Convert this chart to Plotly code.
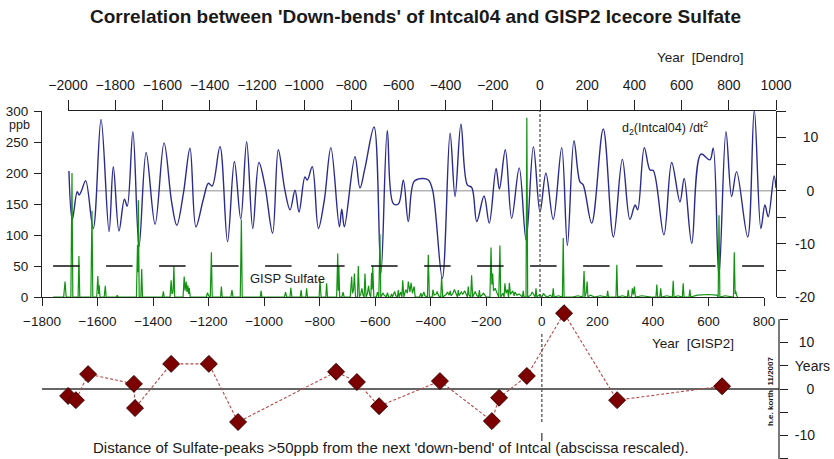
import plotly.graph_objects as go

# ---------------- data ----------------
# 2nd derivative of Intcal04 (blue), Dendro years
d2_year = [-1996, -1982, -1961, -1953, -1942, -1925, -1893, -1860, -1826, -1808,
           -1784, -1761, -1749, -1725, -1699, -1669, -1631, -1593, -1561, -1539,
           -1511, -1483, -1458, -1427, -1405, -1389, -1356, -1324, -1295, -1268,
           -1243, -1217, -1191, -1165, -1133, -1109, -1081, -1059, -1038, -1021,
           -996, -986, -965, -939, -914, -886, -850, -840, -829, -784,
           -763, -742, -703, -674, -647, -622, -600, -579, -558, -534,
           -501, -473, -455, -414, -381, -360, -335, -308, -289, -268,
           -237, -215, -186, -172, -147, -120, -88, -59, -28, 0,
           25, 56, 92, 116, 144, 169, 183, 219, 268, 311,
           349, 381, 403, 414, 442, 466, 480, 525, 558, 593,
           611, 643, 682, 720, 734, 758, 788, 812, 833, 880,
           908, 936, 953, 967, 992, 1000]
d2_val = [3.7, -5.5, -0.2, -0.8, 0.1, 1.9, -7.1, 13.4, -7.7, 4.5,
          -7.6, -1.6, -2.9, 11.1, -10.5, 7.2, -6.3, 9.0, -2.1, -6.5,
          -0.5, 8.0, -6.8, -1.7, 1.4, 0.9, 8.3, -9.6, 5.5, -5.3,
          9.2, -7.1, 5.3, 0.8, -8.0, 7.7, 0.1, -3.6, 0.1, -4.0,
          2.6, 2.0, 4.5, -7.1, -1.8, 8.1, -6.8, -3.5, -6.8, 6.4,
          0.5, 4.2, 12.0, -15.5, 11.3, -2.4, -2.5, 2.0, -5.8, 1.7,
          2.3, 2.0, 0.1, -16.5, 10.8, -1.1, 12.5, 1.1, 0.6, -5.8,
          -1.0, -6.1, 4.2, 0.3, 7.7, -5.2, 4.3, -9.3, 8.3, -4.0,
          3.3, -5.4, 8.1, -10.3, 9.4, 1.7, 1.1, -6.1, 11.6, -8.7,
          5.9, -5.4, -2.7, -3.6, 8.1, 3.9, 3.8, -8.3, 5.3, -2.1,
          2.3, -9.9, 6.9, 5.8, 8.0, -16.2, 11.1, -1.1, 3.6, -8.7,
          15.2, -7.1, -2.7, -4.9, 2.8, 0.5]

# GISP2 sulfate (green), GISP2 years, ppb
sulfate_year = [
    -1760, -1722, -1717, -1713, -1696, -1692, -1689, -1670, -1667, -1664,
    -1624, -1620, -1617, -1603, -1599, -1596, -1594, -1591, -1576, -1572, -1569,
    -1532, -1529, -1526, -1460, -1456, -1454, -1453, -1450, -1444, -1441, -1438,
    -1366, -1363, -1360, -1339, -1335, -1332, -1328, -1325, -1322,
    -1292, -1288, -1285, -1281, -1278, -1275, -1272, -1270, -1266,
    -1208, -1204, -1200, -1194, -1190, -1187, -1157, -1154, -1151, -1120, -1116, -1112,
    -1086, -1082, -1079, -1014, -1011, -1008, -927, -923, -919, -907, -904, -900,
    -870, -867, -864, -850, -847, -844, -802, -799, -795, -778, -775, -772,
    -739, -735, -733, -731, -728, -720, -716, -712, -690, -685, -682, -678, -675, -671,
    -664, -661, -657, -652, -648, -644, -640, -637, -633, -628, -624, -620, -616, -613, -611, -609, -605,
    -596, -592, -587, -583, -580, -572, -568, -560, -556, -552, -545, -541, -538, -530, -526,
    -520, -517, -514, -508, -504, -501, -497, -490, -484, -481, -475, -471, -466, -460, -456,
    -440, -436, -432, -425, -421, -412, -409, -405, -395, -392, -388, -380, -377, -372, -364, -361, -357,
    -345, -340, -334, -330, -327, -320, -315, -308, -304, -301, -298, -290, -285, -278, -272,
    -268, -265, -262, -256, -253, -249, -240, -235, -228, -225, -222, -210, -200,
    -187, -183, -180, -177, -174, -168, -163, -158, -155, -151, -148, -140, -136, -133, -129,
    -124, -120, -117, -113, -105, -100, -97, -90, -82, -76, -70, -67, -64, -57, -54, -51,
    -40, -35, -24, -21, -18, -8, 0, 6, 12, 20, 30, 38, 41, 44, 60, 74, 77, 80,
    110, 130, 148, 152, 155, 160, 163, 166, 175, 190, 210, 234, 237, 240,
    255, 267, 270, 273, 290, 308, 311, 314, 323, 326, 330, 333, 337, 360, 395,
    411, 414, 417, 425, 428, 431, 450, 470, 473, 476, 490, 506, 509, 512,
    530, 533, 536, 560, 600, 630, 635, 638, 641, 660, 690, 693, 696, 698, 701, 705]
sulfate_ppb = [
    0, 0, 25, 0, 0, 200, 0, 0, 66, 0,
    0, 139, 0, 0, 34, 5, 19, 0, 0, 18, 0,
    0, 3, 0, 0, 84, 40, 156, 0, 0, 45, 0,
    0, 9, 0, 0, 27, 5, 8, 50, 0,
    0, 33, 10, 25, 8, 19, 5, 15, 0,
    0, 7, 2, 0, 72, 0, 0, 17, 0, 0, 11, 0,
    0, 125, 0, 0, 10, 0, 0, 8, 0, 0, 15, 0,
    0, 11, 0, 0, 14, 0, 0, 27, 0, 0, 22, 0,
    0, 70, 10, 49, 0, 0, 8, 0, 0, 33, 6, 12, 38, 0,
    0, 50, 0, 5, 14, 3, 0, 38, 0, 6, 18, 4, 0, 39, 12, 50, 0,
    0, 8, 0, 101, 0, 6, 3, 0, 7, 0, 0, 5, 0, 9, 2,
    0, 11, 0, 8, 0, 27, 0, 12, 6, 25, 8, 23, 6, 17, 0,
    0, 6, 0, 8, 2, 0, 68, 0, 0, 12, 3, 5, 9, 2, 0, 33, 0,
    4, 8, 3, 10, 2, 6, 12, 3, 0, 11, 2, 8, 4, 10, 3,
    0, 17, 3, 0, 35, 0, 9, 3, 0, 11, 0, 6, 0,
    0, 80, 20, 38, 10, 14, 8, 4, 0, 83, 0, 6, 0, 22, 6,
    12, 0, 23, 4, 10, 2, 8, 3, 5, 2, 0, 10, 0, 0, 289, 0,
    3, 8, 0, 14, 0, 4, 0, 6, 2, 0, 3, 0, 14, 0, 2, 0, 95, 0,
    0, 2, 0, 42, 0, 8, 25, 0, 3, 0, 2, 0, 10, 0,
    0, 0, 52, 0, 2, 0, 11, 0, 0, 14, 4, 17, 0, 2, 0,
    0, 20, 0, 0, 14, 0, 2, 0, 26, 0, 2, 0, 22, 0,
    0, 12, 0, 3, 4, 3, 0, 132, 0, 2, 0, 72, 5, 10, 3, 0]

# distance of sulfate peaks (>50 ppb) from next down-bend (years)
peak_year = [-1706, -1678, -1634, -1469, -1465, -1335, -1199, -1094, -741,
             -666, -586, -367, -180, -154, -54, 80, 271, 649]
peak_dist = [-1.5, -2.4, 3.2, 1.1, -4.1, 5.4, 5.4, -7.1, 3.7,
             1.5, -3.7, 1.7, -6.9, -1.9, 2.8, 16.3, -2.4, 0.6]

dendro_ticks = list(range(-2000, 1001, 200))
gisp_ticks = list(range(-1800, 801, 200))
ppb_ticks = [0, 50, 100, 150, 200, 250, 300]
d2_ticks = [15, 10, 5, 0, -5, -10, -15, -20]
d2_text = ["", "\u00a0\u00a010", "", "\u00a0\u00a0\u00a00", "", "-10", "", "-20"]
yr_ticks = [15, 10, 5, 0, -5, -10, -15]
yr_text = ["", "\u00a010", "Years", "\u00a0\u00a0\u00a00", "", "-10", ""]

# ---------------- layout helpers ----------------
W, H = 834, 459
def px(x):
    return x / W
def py(y):
    return 1 - y / H

FONT = "Arial, Liberation Sans, sans-serif"
TXT = "#1a1a1a"
BLUE = "#2b2b8f"
GREEN = "#129312"

fig = go.Figure()

fig.add_trace(go.Scatter(x=d2_year, y=d2_val, mode="lines",
                         line=dict(color=BLUE, width=1.4, shape="spline", smoothing=1.0),
                         xaxis="x", yaxis="y", hoverinfo="skip"))
fig.add_trace(go.Scatter(x=sulfate_year, y=sulfate_ppb, mode="lines",
                         line=dict(color=GREEN, width=1.2),
                         xaxis="x2", yaxis="y2", hoverinfo="skip"))
fig.add_trace(go.Scatter(x=peak_year, y=peak_dist, mode="lines+markers",
                         line=dict(color="#b54a4a", width=1.1, dash="3px,2px"),
                         marker=dict(symbol="diamond", size=13, color="#7c0000",
                                     line=dict(color="#3a0000", width=1)),
                         cliponaxis=False,
                         xaxis="x3", yaxis="y3", hoverinfo="skip"))

axis_common = dict(showgrid=False, zeroline=False, showline=True, linecolor="#222",
                   linewidth=1.2, ticks="outside", tickcolor="#222", tickwidth=1.2,
                   automargin=False,
                   tickfont=dict(family=FONT, size=13.5, color=TXT))

# lower panel: 0 at y=389 px, 4.65 px per year; domain 305..459 px
yr_top = (389 - 305) / 4.65
yr_bot = -(459 - 389) / 4.65

fig.update_layout(
    width=W, height=H, margin=dict(l=0, r=0, t=0, b=0, autoexpand=False),
    paper_bgcolor="white", plot_bgcolor="rgba(0,0,0,0)", showlegend=False,
    xaxis=dict(axis_common, domain=[px(68), px(776)], range=[-2000, 1000],
               side="top", anchor="free", position=py(110), tickvals=dendro_ticks,
               ticklen=10, tickfont=dict(family=FONT, size=14, color=TXT),
               ticklabelstandoff=4),
    yaxis=dict(axis_common, domain=[py(297), py(111)], range=[-20, 15],
               side="right", anchor="x", tickvals=d2_ticks, ticktext=d2_text,
               ticklen=9, ticklabelstandoff=6, tickfont=dict(family=FONT, size=14, color=TXT)),
    xaxis2=dict(axis_common, domain=[px(42), px(764)], range=[-1800, 800],
                anchor="y2", tickvals=gisp_ticks, ticklen=8, ticklabelstandoff=4),
    yaxis2=dict(axis_common, domain=[py(297), py(111)], range=[0, 300],
                anchor="x2", tickvals=ppb_ticks, ticklen=7, ticklabelstandoff=3),
    xaxis3=dict(domain=[px(42), px(764)], range=[-1800, 800], anchor="y3",
                visible=False),
    yaxis3=dict(axis_common, domain=[0, py(305)], range=[yr_bot, yr_top],
                showline=False,
                side="right", anchor="free", position=px(779), tickvals=yr_ticks,
                ticktext=yr_text, ticklen=8, ticklabelstandoff=4,
                tickfont=dict(family=FONT, size=14, color=TXT)),
)

shapes = []
shapes.append(dict(type="line", xref="x", yref="y", x0=-1877, x1=1000, y0=0, y1=0,
                   line=dict(color="#b4b4b4", width=1.5), layer="below"))
shapes.append(dict(type="line", xref="x2", yref="y2", x0=-1760, x1=800, y0=50, y1=50,
                   line=dict(color="#111", width=1.3, dash="26.5px,26.5px")))
shapes.append(dict(type="line", xref="x", yref="paper", x0=0, x1=0, y0=py(297), y1=py(111),
                   line=dict(color="#555", width=1.3, dash="3px,2px")))
shapes.append(dict(type="line", xref="x3", yref="paper", x0=0, x1=0, y0=py(422), y1=py(333),
                   line=dict(color="#555", width=1.3, dash="3px,2px")))
shapes.append(dict(type="line", xref="x3", yref="paper", x0=0, x1=0, y0=py(441), y1=py(433),
                   line=dict(color="#333", width=1.2)))
shapes.append(dict(type="line", xref="paper", yref="y3", x0=px(42), x1=px(779), y0=0, y1=0,
                   line=dict(color="#333", width=1.5), layer="below"))
shapes.append(dict(type="line", xref="paper", yref="y3", x0=px(779), x1=px(779), y0=yr_bot, y1=15,
                   line=dict(color="#222", width=1.2)))
fig.update_layout(shapes=shapes)

def ann(text, x, y, size=13, bold=False, angle=0, xanchor="center"):
    fig.add_annotation(text=f"<b>{text}</b>" if bold else text, x=px(x), y=py(y),
                       xref="paper", yref="paper", showarrow=False, xanchor=xanchor,
                       yanchor="middle", textangle=angle,
                       font=dict(family=FONT, size=size, color=TXT))

ann("Correlation between 'Down-bends' of Intcal04 and GISP2 Icecore Sulfate", 415, 17, size=19, bold=True)
ann("Year&nbsp;&nbsp;[Dendro]", 700, 57, size=13.5)
ann("ppb", 19, 125, size=12.5)
ann("d<sub>2</sub>(Intcal04) /dt<sup>2</sup>", 665, 128, size=12.5)
ann("GISP Sulfate", 287, 278, size=13)
ann("Year&nbsp;&nbsp;[GISP2]", 693, 343, size=13.5)
ann("Distance of Sulfate-peaks >50ppb from the next 'down-bend' of Intcal (abscissa rescaled).",
    391, 447, size=15)
ann("h.e. korth&nbsp;&nbsp;11/2007", 770, 392, size=8, bold=True, angle=-90)

fig.write_html("out.html")
